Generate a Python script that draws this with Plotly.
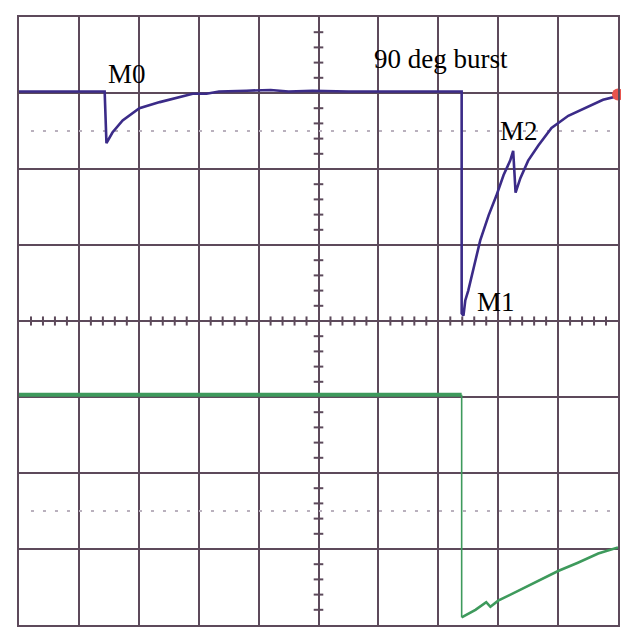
import plotly.graph_objects as go

# ---- data (divisions: x 0..10, y -4..4) ----
blue_x = [0.0, 1.43, 1.46, 1.56, 1.73, 2.01, 2.35, 2.68, 2.90, 3.13, 3.34, 3.8, 4.2, 4.5, 4.9, 5.5, 6.2, 6.8, 7.39,
          7.39, 7.42, 7.45, 7.50, 7.60, 7.70, 7.84, 7.97, 8.09, 8.20, 8.25, 8.29, 8.37, 8.50, 8.67, 8.89, 9.17, 9.45, 9.75, 10.0]
blue_y = [3.02, 3.02, 2.34, 2.48, 2.64, 2.80, 2.88, 2.94, 2.99, 2.99, 3.02, 3.03, 3.04, 3.02, 3.03, 3.02, 3.02, 3.02, 3.02,
          0.10, 0.07, 0.27, 0.40, 0.73, 1.06, 1.39, 1.65, 1.92, 2.11, 2.24, 1.69, 1.88, 2.11, 2.31, 2.54, 2.70, 2.80, 2.91, 2.96]

green_flat_x = [0.0, 7.39]
green_flat_y = [-0.97, -0.97]
green_drop_x = [7.39, 7.39]
green_drop_y = [-0.97, -3.90]
green_ramp_x = [7.39, 7.62, 7.80, 7.87, 8.00, 8.34, 8.67, 9.00, 9.33, 9.67, 10.0]
green_ramp_y = [-3.90, -3.80, -3.70, -3.76, -3.68, -3.55, -3.42, -3.29, -3.18, -3.06, -2.98]

dotted_levels = [2.5, -2.5]

labels = ["M0", "90 deg burst", "M2", "M1"]
label_x = [1.81, 7.04, 8.34, 7.97]
label_y = [3.25, 3.45, 2.50, 0.25]

GRID = "#5d4a5b"
BLUE = "#3b2b88"
GREEN = "#3e9a5c"

fig = go.Figure()

# dotted reference lines
for lv in dotted_levels:
    fig.add_trace(go.Scatter(x=[0.2, 9.9], y=[lv, lv], mode="lines",
                             line=dict(color="#b9b0bd", width=2, dash="3px,9px"),
                             hoverinfo="skip", showlegend=False))

# minor ticks on centre axes
tx, ty = [], []
for i in range(1, 50):
    if i % 5 == 0:
        continue
    x = i * 0.2
    tx += [x, x, None]
    ty += [-0.06, 0.06, None]
for i in range(-19, 20):
    if i % 5 == 0:
        continue
    y = i * 0.2
    tx += [4.92, 5.08, None]
    ty += [y, y, None]
fig.add_trace(go.Scatter(x=tx, y=ty, mode="lines", line=dict(color=GRID, width=2),
                         hoverinfo="skip", showlegend=False))

# traces
fig.add_trace(go.Scatter(x=blue_x, y=blue_y, mode="lines", line=dict(color=BLUE, width=2.6),
                         showlegend=False))
fig.add_trace(go.Scatter(x=green_flat_x, y=green_flat_y, mode="lines", line=dict(color=GREEN, width=4),
                         showlegend=False))
fig.add_trace(go.Scatter(x=green_drop_x, y=green_drop_y, mode="lines", line=dict(color=GREEN, width=1.6),
                         showlegend=False))
fig.add_trace(go.Scatter(x=green_ramp_x, y=green_ramp_y, mode="lines", line=dict(color=GREEN, width=2.6),
                         showlegend=False))
# channel marker at right edge
fig.add_trace(go.Scatter(x=[10.0], y=[2.98], mode="markers",
                         marker=dict(color="#e8554e", size=12, symbol="circle"),
                         cliponaxis=False, showlegend=False))

for t, x, y in zip(labels, label_x, label_y):
    fig.add_annotation(x=x, y=y, text=t, showarrow=False, xanchor="center", yanchor="middle",
                       font=dict(family="Liberation Serif", size=27, color="black"))

axis_common = dict(showgrid=True, gridcolor=GRID, gridwidth=2, dtick=1, showticklabels=False,
                   ticks="", showline=True, linecolor=GRID, linewidth=2, mirror=True,
                   zeroline=False, fixedrange=True)
fig.update_xaxes(range=[0, 10], tick0=0, **axis_common)
fig.update_yaxes(range=[-4, 4], tick0=0, **axis_common)

fig.update_layout(width=621, height=630, margin=dict(l=19, r=1, t=17, b=5),
                  paper_bgcolor="white", plot_bgcolor="white", hovermode=False)

fig.write_html("out.html", config={"displayModeBar": False},
               post_script="document.body.style.margin='0';document.body.style.overflow='hidden';")
